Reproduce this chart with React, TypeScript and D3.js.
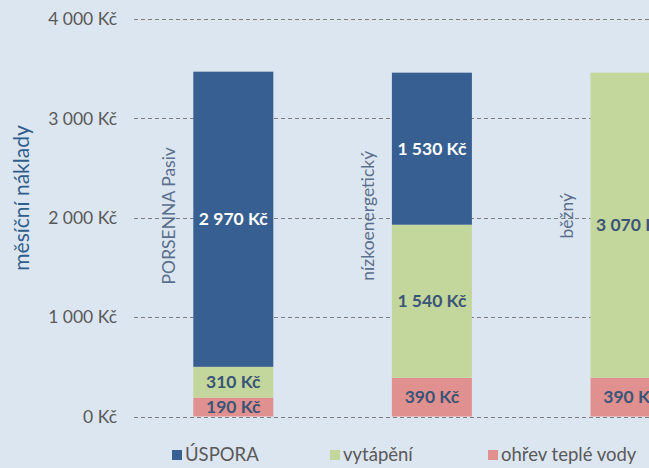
import React from "react";
import * as d3 from "d3";

const categories = ["PORSENNA Pasiv", "nízkoenergetický", "běžný"];
const seriesNames = ["ohřev teplé vody", "vytápění", "ÚSPORA"];
const ohrev = [190, 390, 390];
const vytapeni = [310, 1540, 3070];
const uspora = [2970, 1530, 0];
const yTicks = [0, 1000, 2000, 3000, 4000];
const legendOrder = ["ÚSPORA", "vytápění", "ohřev teplé vody"];

const colors: Record<string, string> = {
  "ÚSPORA": "#375f91",
  "vytápění": "#c3d69b",
  "ohřev teplé vody": "#e0918f",
};
const labelColors: Record<string, string> = {
  "ÚSPORA": "#ffffff",
  "vytápění": "#3a5577",
  "ohřev teplé vody": "#3a5577",
};

const W = 649;
const H = 468;
const FONT = "Lato, 'Open Sans', sans-serif";

const fmt = (v: number) => {
  const s = d3.format(",")(v).replace(/,/g, "\u00a0");
  return `${s} Kč`.replace(/ /g, "\u00a0");
};

export default function App() {
  const x0 = 134;
  const step = 198.6;
  const x = d3
    .scaleBand<string>()
    .domain(categories)
    .range([x0, x0 + step * categories.length])
    .paddingInner(0)
    .paddingOuter(0);
  const barW = 80;
  const y = d3.scaleLinear().domain([0, 4000]).range([416.5, 19]);

  const rows = categories.map((c, i) => ({
    cat: c,
    "ohřev teplé vody": ohrev[i],
    "vytápění": vytapeni[i],
    "ÚSPORA": uspora[i],
  }));
  const stack = d3.stack<any>().keys(seriesNames)(rows);

  return (
    <svg
      width={W}
      height={H}
      style={{ position: "absolute", left: 0, top: 0, background: "#dce6f1" }}
      fontFamily={FONT}
    >
      <rect x={0} y={0} width={W} height={H} fill="#dce6f1" />
      {/* gridlines */}
      {yTicks.map((t) => (
        <g key={t}>
          <line
            x1={x0}
            x2={W}
            y1={Math.round(y(t)) + 0.5}
            y2={Math.round(y(t)) + 0.5}
            stroke="#7f7f7f"
            strokeWidth={1}
            strokeDasharray="4,3"
          />
          <text
            x={117}
            y={y(t)}
            dy="0.35em"
            textAnchor="end"
            fontSize={17.5}
            fill="#595959"
          >
            {fmt(t)}
          </text>
        </g>
      ))}
      {/* y title */}
      <text
        transform={`translate(29,198) rotate(-90)`}
        textAnchor="middle"
        fontSize={21}
        fill="#2f5d8c"
      >
        měsíční náklady
      </text>
      {/* bars */}
      {stack.map((s) =>
        s.map((d, i) => {
          const v = d[1] - d[0];
          if (v <= 0) return null;
          const cx = (x(categories[i]) as number) + x.bandwidth() / 2;
          return (
            <rect
              key={s.key + i}
              x={cx - barW / 2}
              y={y(d[1])}
              width={barW}
              height={y(d[0]) - y(d[1])}
              fill={colors[s.key]}
            />
          );
        })
      )}
      {/* data labels */}
      {stack.map((s) =>
        s.map((d, i) => {
          const v = d[1] - d[0];
          if (v <= 0) return null;
          const cx = (x(categories[i]) as number) + x.bandwidth() / 2;
          return (
            <text
              key={"l" + s.key + i}
              x={cx}
              y={y((d[0] + d[1]) / 2)}
              dy="0.35em"
              textAnchor="middle"
              fontSize={17.5}
              fontWeight="bold"
              fill={labelColors[s.key]}
            >
              {fmt(v)}
            </text>
          );
        })
      )}
      {/* category labels */}
      {categories.map((c) => {
        const cx = (x(c) as number) + x.bandwidth() / 2;
        return (
          <text
            key={c}
            transform={`translate(${cx - barW / 2 - 18},${y(2000) - 2}) rotate(-90)`}
            textAnchor="middle"
            fontSize={17.5}
            fill="#5b6f8c"
          >
            {c}
          </text>
        );
      })}
      {/* legend */}
      {legendOrder.map((k, i) => {
        const lx = [172, 330, 488][i];
        return (
          <g key={k} transform={`translate(${lx},455)`}>
            <rect x={0} y={-5} width={10} height={10} fill={colors[k]} />
            <text x={13} y={0} dy="0.35em" fontSize={18.5} fill="#595959">
              {k}
            </text>
          </g>
        );
      })}
    </svg>
  );
}
